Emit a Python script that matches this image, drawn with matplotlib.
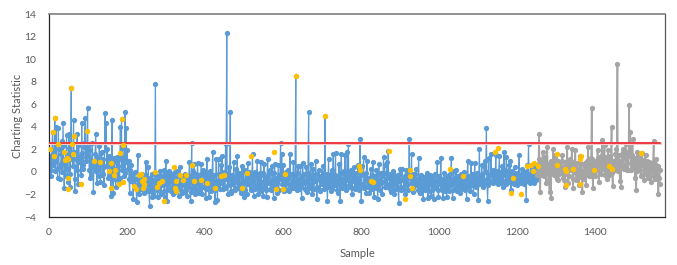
import numpy as np
import matplotlib
matplotlib.use('Agg')
import matplotlib.pyplot as plt

plt.rcParams['font.family'] = ['Lato', 'DejaVu Sans']

# values, one reading every 3 samples
train_stat = [
    2.0,0.75,-0.4,3.5,0.9,4.8,4.0,0.3,3.9,-0.6,0.7,2.7,4.3,-1.4,1.1,3.3,-0.9,3.4,-1.3,7.4,
    1.1,4.6,-1.7,0.4,3.35,-1.1,0.9,1.5,4.35,0.6,2.2,4.8,1.3,5.65,2.4,-0.5,0.6,2.6,-1.8,0.7,
    3.35,-1.0,0.2,2.3,-0.9,1.8,-0.2,-1.2,5.2,4.3,2.0,-0.4,1.1,-2.1,4.6,-1.9,0.9,-1.3,1.3,-0.7,
    1.3,4.0,4.65,2.2,-0.4,5.35,3.9,1.9,1.0,-1.9,0.6,-0.2,-2.4,-0.6,-1.4,-2.65,1.5,-2.0,-0.7,-1.5,
    -0.8,-1.9,-0.5,0.9,-1.6,0.4,-3.05,-0.9,-2.2,-0.7,-2.1,7.8,-1.2,-2.2,-0.4,0.1,-2.0,-0.6,0.2,-2.2,
    0.95,-2.55,-0.3,0.1,-1.7,-0.2,-2.0,-0.5,0.0,-1.6,-0.9,-2.1,0.4,-1.2,-1.9,-0.3,-1.8,-0.6,-2.1,-1.0,
    0.85,-2.6,2.55,-1.4,0.7,-2.0,-0.2,0.8,-1.9,-0.6,0.7,-2.0,0.2,-1.3,-2.3,1.15,-0.2,-2.2,0.1,-1.5,
    1.8,-1.2,-2.65,1.1,-2.5,1.1,-1.0,0.6,1.4,-1.5,-0.3,2.5,12.3,-2.0,0.4,5.3,-1.9,-0.6,0.9,-1.6,
    0.3,1.4,-1.3,-0.2,-1.9,0.5,-0.9,-2.2,0.2,-2.0,0.8,-1.1,-0.2,-1.6,1.6,-2.1,0.0,-1.2,1.0,-2.0,
    -0.1,0.9,-1.5,-2.1,0.7,-0.6,-2.2,1.1,-1.0,0.2,-1.6,0.5,-2.3,0.7,-0.9,-1.9,0.6,-0.3,2.55,1.6,
    0.6,-1.7,-0.4,-1.0,0.2,-1.7,1.55,-1.2,-0.2,0.9,-1.4,8.5,-1.6,0.5,-1.0,0.5,-2.3,0.8,-0.9,-1.5,
    0.4,-1.8,5.35,-1.2,0.7,-2.0,0.3,-0.7,0.95,-2.4,-0.6,0.2,-1.6,-0.4,0.5,-1.2,5.0,-0.9,-2.6,1.15,
    -0.5,-1.7,0.2,1.6,-1.2,1.65,-0.7,-1.9,0.7,-2.55,1.6,-0.9,0.1,1.5,-1.6,1.8,2.5,-1.3,0.2,-2.0,
    -0.3,0.4,-1.5,-0.5,0.6,-1.2,2.9,-2.6,0.5,1.3,-0.3,-1.9,1.0,-0.6,-1.9,0.3,-1.0,0.9,-2.2,-0.4,
    0.2,-2.4,0.7,-1.0,-0.1,-2.0,1.3,0.6,-1.3,0.9,1.85,-0.3,-1.8,-0.8,0.1,-2.0,-0.9,-1.5,-0.3,-2.75,
    0.3,-1.6,0.3,-0.7,-2.0,0.2,-1.2,-0.1,2.9,-0.4,1.55,-1.8,-0.2,-1.1,0.3,-0.9,1.25,-1.9,-0.3,-1.3,
    -2.4,-0.5,-1.3,-0.1,-2.3,-1.0,-0.3,-2.1,-0.7,-2.4,-0.2,-1.3,0.85,-2.2,-0.5,1.2,-1.6,-2.3,-0.1,-1.2,
    -2.2,-0.4,-1.7,-0.2,1.2,-2.3,0.1,-1.0,0.2,-1.7,-0.4,-1.9,-0.2,-1.2,-0.6,0.0,-1.6,-2.4,1.0,-0.8,
    -1.7,0.8,-0.3,-2.0,0.8,-0.7,-1.2,-2.5,2.0,-0.6,0.6,-1.3,0.5,1.0,3.9,-2.55,1.2,-0.3,1.6,-0.9,
    0.2,-0.6,1.5,0.1,-1.1,1.4,-0.2,0.5,-1.3,1.8,0.2,1.3,-0.8,0.6,1.0,-1.6,0.1,-0.9,0.4,-0.4,
    -1.2,-0.2,1.5,-0.9,0.3,-0.5,-1.1,0.0,-2.5,0.6,2.5,-0.8,0.6,-0.3,0.5,-1.0,0.4,-0.6,
]
# readings one sample later, these fill in the dense band
train_stat2 = [
    1.2,0.2,1.5,0.6,1.9,0.1,1.3,-0.5,2.0,0.4,1.6,0.0,2.3,0.7,-0.4,1.5,0.3,2.1,-0.2,1.2,
    0.5,1.8,-0.6,1.1,0.2,2.4,0.9,-0.3,1.7,0.3,2.6,1.0,2.2,1.4,0.2,1.9,-0.2,1.0,0.4,1.6,
    0.1,1.3,-0.4,0.8,1.7,-0.3,1.1,0.4,1.9,0.6,-0.5,1.4,0.2,0.9,-0.6,1.2,0.3,-0.2,1.0,0.5,
    -0.5,1.1,0.2,0.6,1.3,-0.1,0.9,0.3,-0.6,0.2,-0.8,-0.3,-1.1,0.0,-1.3,-0.6,-1.6,-0.4,-1.2,-0.2,
    -1.5,-0.7,-1.8,-0.3,-1.1,-1.7,-0.5,-1.4,-0.2,-1.9,-0.9,-0.3,-1.6,-0.6,-1.3,-1.9,-0.4,-1.2,-1.7,-0.1,
    -1.0,-0.5,-1.6,-0.8,-0.2,-1.4,-0.6,-1.8,-1.1,0.1,-1.5,-0.4,-1.0,-1.7,-0.5,-1.2,-0.2,-1.6,-0.7,-1.3,
    -0.4,-1.8,-0.9,0.1,-1.2,-0.5,-1.6,-0.3,-1.0,-1.7,-0.2,-1.3,-0.7,-0.1,-1.5,-0.6,-1.1,-0.2,-1.7,-0.5,
    -1.1,-0.3,-1.6,-0.8,-1.3,-0.2,-1.5,-0.5,-1.0,0.0,-1.4,-0.6,-0.2,-1.2,-0.7,-1.7,-0.3,-1.1,-0.5,-1.4,
    -0.6,-1.0,-0.1,-1.5,-0.4,-1.2,0.1,-1.6,-0.7,-0.3,-1.1,0.0,-1.4,-0.6,-1.0,-0.2,-1.5,-0.4,-1.2,-0.6,
    -1.7,-0.3,-0.9,-0.1,-1.3,-1.6,-0.4,-1.0,-0.2,-1.5,-0.7,-1.2,-0.1,-1.4,-0.5,-1.0,-1.6,-0.6,-0.2,-1.1,
    -0.7,-1.3,0.0,-1.6,-0.5,-1.1,-0.2,-1.4,-0.8,-1.2,-0.3,-1.0,-0.1,-1.5,-0.6,-1.3,-0.4,-1.0,-0.2,-1.6,
    -0.9,-0.1,-1.4,-0.5,-1.1,-0.3,-1.5,-0.8,-0.2,-1.3,-0.6,-1.7,-0.4,-1.1,-0.1,-1.5,-0.7,-0.2,-1.3,-0.6,
    -1.1,-0.2,-1.5,-0.7,-0.3,-1.2,-1.6,-0.4,-1.0,-0.1,-1.4,-0.6,-1.1,-0.2,-1.5,-0.7,-1.2,-0.1,-0.9,-1.4,
    -0.5,-1.3,-0.1,-1.0,-0.6,-1.6,-0.3,-1.1,-0.2,-1.4,-0.7,-0.1,-1.3,-0.5,-1.0,-1.5,-0.3,-1.2,-0.6,-1.4,
    -0.3,-1.2,-0.7,-1.6,-0.4,-0.9,-0.1,-1.3,-0.6,-1.1,-0.2,-1.5,-0.5,-1.2,-1.7,-0.3,-1.1,-0.6,-1.4,-0.8,
    -0.2,-1.3,-0.7,-1.5,-0.4,-1.1,-0.6,-1.6,-0.2,-1.0,-0.5,-1.4,-0.8,-0.2,-1.2,-1.6,-0.5,-1.0,-0.7,-1.5,
    -0.9,-1.6,-0.4,-1.2,-0.7,-1.7,-0.5,-1.1,-1.5,-0.3,-1.3,-0.8,-1.6,-0.4,-1.1,-0.6,-1.4,-0.9,-1.7,-0.5,
    -1.0,-1.5,-0.3,-1.2,-0.7,-1.6,-0.5,-0.9,-1.3,-0.4,-1.1,-0.7,-1.5,-0.3,-1.0,-1.4,-0.6,-1.1,-0.4,-1.3,
    -0.6,-1.2,-0.2,-0.9,-0.5,-1.3,-0.1,-0.8,-0.4,-1.1,-0.2,-0.7,-1.0,0.0,-0.6,-1.2,-0.3,-0.8,-0.1,-1.0,
    -0.4,-0.9,0.0,-0.6,-0.2,-1.0,-0.5,0.1,-0.8,-0.3,-1.1,-0.1,-0.6,-0.9,-0.2,-0.7,0.0,-1.1,-0.4,-0.8,
    -0.1,-0.6,-1.0,-0.3,-0.8,0.1,-0.5,-0.9,-0.2,-0.7,-0.3,-1.0,-0.1,-0.6,-0.8,-0.2,-0.7,-0.3,
]
test_stat = [
    0.6,3.4,-1.75,1.0,1.8,-0.4,0.7,-1.0,2.2,-0.2,-1.75,-2.35,0.5,2.0,-0.3,1.5,-0.6,1.0,-0.2,0.9,
    0.1,1.5,-0.7,-1.3,0.9,2.2,-1.0,0.3,1.0,2.0,-1.45,0.4,1.9,-0.7,0.2,-1.2,1.4,0.1,-1.8,-0.3,
    0.8,-1.2,0.6,2.2,-0.4,1.2,5.7,-1.4,0.9,-0.4,1.0,1.9,-0.9,1.0,-0.2,2.8,0.3,2.4,0.8,-0.6,
    1.9,-0.3,1.2,4.0,-1.25,1.0,0.2,2.0,9.6,0.5,-0.8,-1.3,1.6,0.4,2.0,2.5,0.2,1.6,5.9,3.5,
    0.2,2.9,1.0,-0.5,-1.65,1.8,0.3,1.4,-0.4,1.7,0.6,-0.7,1.5,0.2,-0.5,0.9,0.0,-0.9,0.5,2.7,
    -0.6,1.1,0.3,-2.0,-1.1,
]
test_stat2 = [
    0.1,1.1,0.5,-0.3,0.9,0.2,1.3,-0.2,0.7,-0.6,0.4,1.0,-0.1,0.6,1.2,-0.4,0.3,-0.7,0.8,0.0,
    1.0,-0.5,0.4,0.9,-0.2,0.6,-0.4,1.1,0.2,0.7,-0.6,0.5,-0.1,0.8,-0.5,0.3,-0.3,0.7,0.1,-0.6,
    0.4,-0.2,1.0,0.2,0.8,-0.4,1.1,0.3,-0.1,0.9,0.2,1.2,0.1,0.7,1.4,0.4,1.1,-0.3,1.3,0.5,
    0.2,1.4,0.6,-0.1,1.0,0.4,1.6,0.8,0.1,1.5,0.5,1.0,2.0,0.3,1.2,0.7,1.8,0.2,1.4,0.8,
    1.5,0.4,1.2,0.8,0.1,0.9,1.3,0.2,1.1,0.6,-0.2,0.9,0.3,1.0,-0.3,0.5,0.8,0.1,0.6,-0.4,
    0.7,-0.2,0.5,-0.5,0.2,
]

# flagged samples
flag_x = [3,10,15,12,24,57,58,65,62,38,41,45,50,50,50,82,97,115,131,154,158,158,169,168,182,186,189,180,189,
          217,222,231,236,243,238,243,240,273,278,283,291,294,321,323,326,327,336,344,351,367,373,391,406,425,
          440,448,495,509,518,576,583,601,605,634,708,795,797,826,832,871,914,925,927,930,1029,1062,1144,1151,
          1189,1185,1210,1227,1237,1243,1241,1254,1302,1302,1323,1327,1327,1343,1365,1362,1363,1399,1437,1443,1518]
flag_y = [2.0,3.5,4.8,1.4,2.5,7.4,2.45,3.2,1.55,1.8,1.05,1.2,1.1,-0.55,-1.5,-1.1,3.6,1.0,0.85,0.1,0.8,-1.4,0.2,-0.25,1.65,4.65,2.4,-1.05,-0.9,
          -1.25,-1.5,-0.3,-0.2,-0.6,-0.8,-1.05,-1.4,0.0,-1.35,-1.0,-0.85,-2.55,0.4,-1.45,-1.7,-0.8,-0.3,-0.75,-0.3,0.65,-0.8,-0.7,-1.0,-1.4,
          -0.35,-0.25,-1.4,-0.1,1.4,1.75,-1.55,-1.5,-0.15,8.5,5.0,0.55,0.2,-0.85,-0.9,1.85,-2.4,0.2,-0.4,-1.4,0.25,-0.4,1.8,2.1,
          -0.55,-1.9,-2.0,0.55,0.65,0.75,0.05,0.55,1.55,0.6,0.3,0.05,-1.2,0.3,1.45,1.15,-1.05,0.2,0.5,0.25,1.7]

limit_x = [0, 1567]
limit_y = [2.56, 2.56]
x_ticks = [0, 200, 400, 600, 800, 1000, 1200, 1400]
y_ticks = [-4, -2, 0, 2, 4, 6, 8, 10, 12, 14]


# merge the two reading lists into one sample order
def merge(start, first, second):
    x = np.ravel(np.column_stack([start + np.arange(len(first)) * 3, start + 1 + np.arange(len(second)) * 3]))
    y = np.ravel(np.column_stack([first, second]))
    return x, y


train_x, train_y = merge(0, train_stat, train_stat2)
test_x, test_y = merge(len(train_stat) * 3, test_stat, test_stat2)

fig = plt.figure(figsize=(6.77, 2.65), dpi=100)
ax = fig.add_axes([49 / 677, 1 - 217 / 265, (665 - 49) / 677, (217 - 14) / 265])

ax.plot(train_x, train_y, color='#5B9BD5', lw=0.85, marker='o', ms=3.8, mew=0)
ax.plot(np.r_[train_x[-1], test_x], np.r_[train_y[-1], test_y], color='#A5A5A5', lw=1.2, marker='o', ms=3.8, mew=0)
ax.plot(limit_x, limit_y, color='#F8C9C9', lw=2.2, zorder=3)
ax.plot(limit_x, limit_y, color='#E8141C', lw=1.1, zorder=3)
ax.plot(flag_x, flag_y, ls='none', color='#FFC000', marker='o', ms=3.9, mew=0, zorder=4)

ax.set_xlim(0, 1580)
ax.set_ylim(-4, 14)
ax.set_xticks(x_ticks)
ax.set_yticks(y_ticks)
ax.tick_params(axis='x', length=0, labelsize=7.5, labelcolor='#595959', pad=8)
ax.tick_params(axis='y', length=0, labelsize=7.5, labelcolor='#595959', pad=9)
ax.set_xlabel('Sample', fontsize=8, color='#595959', labelpad=8)
ax.set_ylabel('Charting Statistic', fontsize=8, color='#595959', labelpad=1)

ax.spines['top'].set_color('#7F7F7F')
ax.spines['right'].set_color('#595959')
ax.spines['left'].set_color('#262626')
ax.spines['bottom'].set_color('#262626')
for s in ax.spines.values():
    s.set_linewidth(0.9)
ax.spines['top'].set_linewidth(1.2)

fig.savefig('out.png', dpi=100)
